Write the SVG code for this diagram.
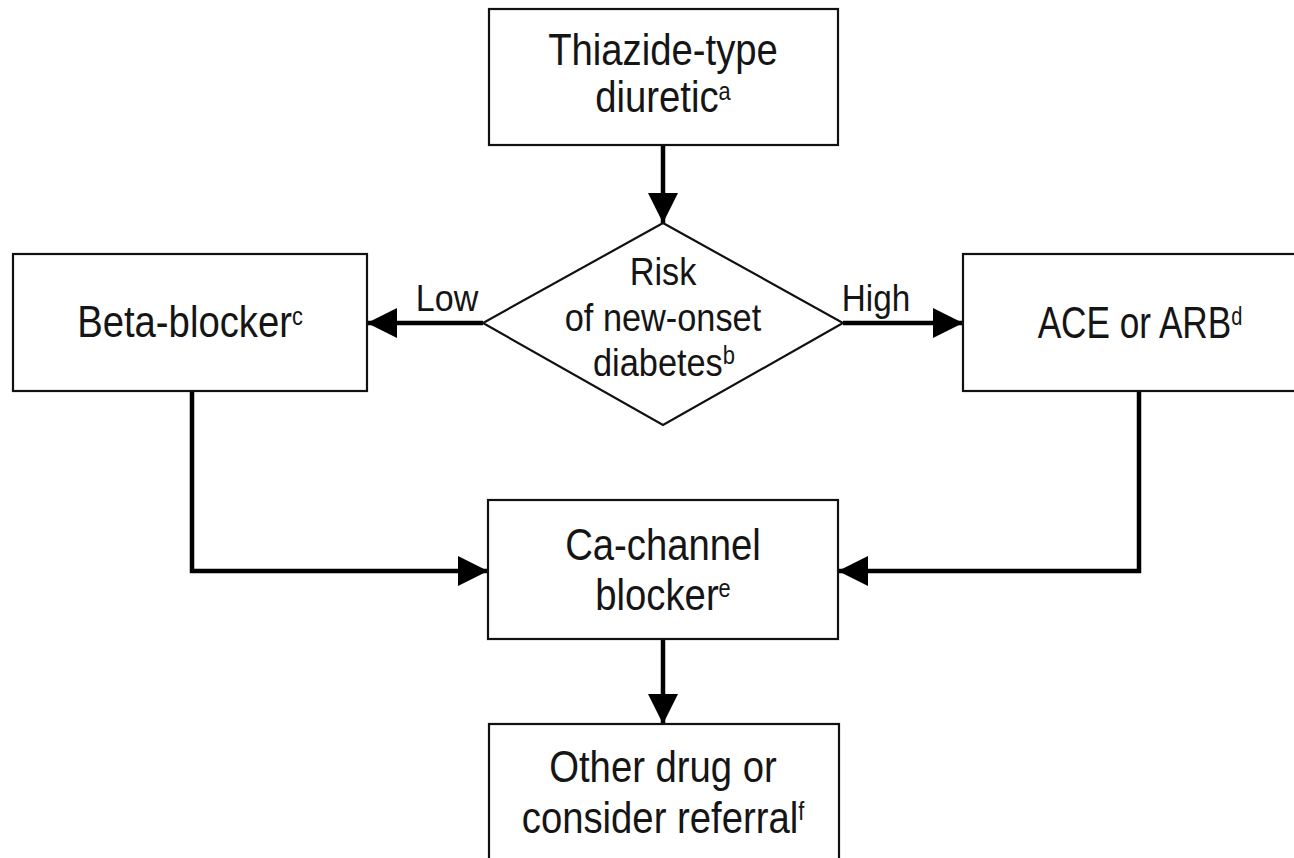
<svg xmlns="http://www.w3.org/2000/svg" width="1294" height="858" viewBox="0 0 1294 858">
  <style>
    .box { fill: #ffffff; stroke: #111111; stroke-width: 2.2; }
    .link { fill: none; stroke: #000000; stroke-width: 4.5; }
    .t { font-family: "Liberation Sans", Arial, sans-serif; fill: #151515; text-anchor: middle; }
    .big { font-size: 44px; }
    .mid { font-size: 37px; }
    .dia { font-size: 39px; }
    .sup { font-size: 25px; }
  </style>
  <defs>
    <marker id="head" viewBox="0 0 30 30" refX="30" refY="15" markerWidth="30" markerHeight="30" markerUnits="userSpaceOnUse" orient="auto">
      <path d="M0,0 L30,15 L0,30 Z" fill="#000000"/>
    </marker>
  </defs>
  <rect width="1294" height="858" fill="#ffffff"/>

  <!-- connectors with their branch labels -->
  <g id="connectors">
    <path class="link" d="M663,145 V223" marker-end="url(#head)"/>
    <path class="link" d="M483,323 H367" marker-end="url(#head)"/>
    <path class="link" d="M843,323 H963" marker-end="url(#head)"/>
    <path class="link" d="M192,391 V571 H488" marker-end="url(#head)"/>
    <path class="link" d="M1139,391 V571 H838" marker-end="url(#head)"/>
    <path class="link" d="M663,639 V724" marker-end="url(#head)"/>
    <text class="t mid" transform="translate(447 311) scale(0.92 1)">Low</text>
    <text class="t mid" transform="translate(876 311) scale(0.9 1)">High</text>
  </g>

  <g id="thiazide">
    <rect class="box" x="489" y="9" width="349" height="136"/>
    <text class="t big" transform="translate(663 65) scale(0.87 1)">Thiazide-type</text>
    <text class="t big" transform="translate(663 112) scale(0.87 1)">diuretic<tspan class="sup" dy="-12">a</tspan></text>
  </g>

  <g id="risk">
    <polygon class="box" points="663,223 843,323 663,425 483,323"/>
    <text class="t dia" transform="translate(663 285) scale(0.88 1)">Risk</text>
    <text class="t dia" transform="translate(663 331) scale(0.88 1)">of new-onset</text>
    <text class="t dia" transform="translate(664 376) scale(0.88 1)">diabetes<tspan class="sup" dy="-12">b</tspan></text>
  </g>

  <g id="beta">
    <rect class="box" x="13" y="254" width="354" height="137"/>
    <text class="t big" transform="translate(190 337) scale(0.87 1)">Beta-blocker<tspan class="sup" dy="-12">c</tspan></text>
  </g>

  <g id="ace">
    <rect class="box" x="963" y="254" width="354" height="137"/>
    <text class="t big" transform="translate(1140 338) scale(0.8 1)">ACE or ARB<tspan class="sup" dy="-13">d</tspan></text>
  </g>

  <g id="ca">
    <rect class="box" x="488" y="500" width="350" height="139"/>
    <text class="t big" transform="translate(663 560) scale(0.87 1)">Ca-channel</text>
    <text class="t big" transform="translate(663 610) scale(0.87 1)">blocker<tspan class="sup" dy="-13">e</tspan></text>
  </g>

  <g id="other">
    <rect class="box" x="489" y="724" width="350" height="150"/>
    <text class="t big" transform="translate(663 782) scale(0.87 1)">Other drug or</text>
    <text class="t big" transform="translate(663 833) scale(0.87 1)">consider referral<tspan class="sup" dy="-13">f</tspan></text>
  </g>
</svg>
